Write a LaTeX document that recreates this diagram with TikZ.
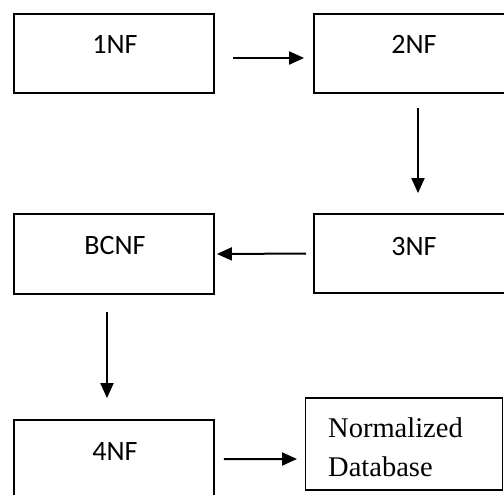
\documentclass[tikz,border=0pt]{standalone}
\usepackage{fontspec}
\setmainfont{Carlito}
\newfontfamily\serifface{Liberation Serif}
\usetikzlibrary{arrows.meta}
\begin{document}
\begin{tikzpicture}[x=1bp,y=-1bp,
  box/.style={draw=black,line width=1.8bp,minimum width=#1,inner sep=0pt},
  lbl/.style={anchor=base,inner sep=0pt,font=\fontsize{28bp}{32bp}\selectfont},
  arr/.style={line width=2bp,-{Triangle[length=15bp,width=13bp]}}]
\useasboundingbox (0,0) rectangle (504,495);
\clip (0,0) rectangle (504,495);
% boxes
\node[box=200bp,minimum height=79bp] (n1) at (114,53.5) {};
\node[box=216bp,minimum height=79bp] (n2) at (422,53.5) {};
\node[box=216bp,minimum height=79bp] (n3) at (422,253.5) {};
\node[box=200bp,minimum height=80bp] (nB) at (114,254) {};
\node[box=200bp,minimum height=80bp] (n4) at (114,460) {};
\node[box=197bp,minimum height=92bp] (nN) at (304.5,444) [anchor=west] {};
% labels
\node[lbl] (t1) at (115,53.3) {1NF};
\node[lbl] (t2) at (414,53.3) {2NF};
\node[lbl] (t3) at (414,255) {3NF};
\node[lbl] (tB) at (115,254) {BCNF};
\node[lbl] (t4) at (115,460) {4NF};
\node[anchor=base west,inner sep=0pt,font=\serifface\fontsize{28.5bp}{34bp}\selectfont] (tN1) at (328,437) {Normalized};
\node[anchor=base west,inner sep=0pt,font=\serifface\fontsize{28.5bp}{34bp}\selectfont] (tN2) at (328,476) {Database};
% connectors
\draw[arr,shorten <=18bp,shorten >=9bp] ([yshift=-4.5bp]n1.east) -- ([yshift=-4.5bp]n2.west);
\draw[arr,shorten <=14bp,shorten >=20bp] ([xshift=-4bp]n2.south) -- ([xshift=-4bp]n3.north);
\draw[arr,shorten <=7bp,shorten >=2bp] (n3.west) -- (nB.east);
\draw[arr,shorten <=17bp,shorten >=21bp] ([xshift=-7bp]nB.south) -- ([xshift=-7bp]n4.north);
\draw[arr,shorten <=9bp,shorten >=7.5bp] ([yshift=1bp]n4.east) -- ([yshift=-15bp]nN.west);
\end{tikzpicture}
\end{document}
